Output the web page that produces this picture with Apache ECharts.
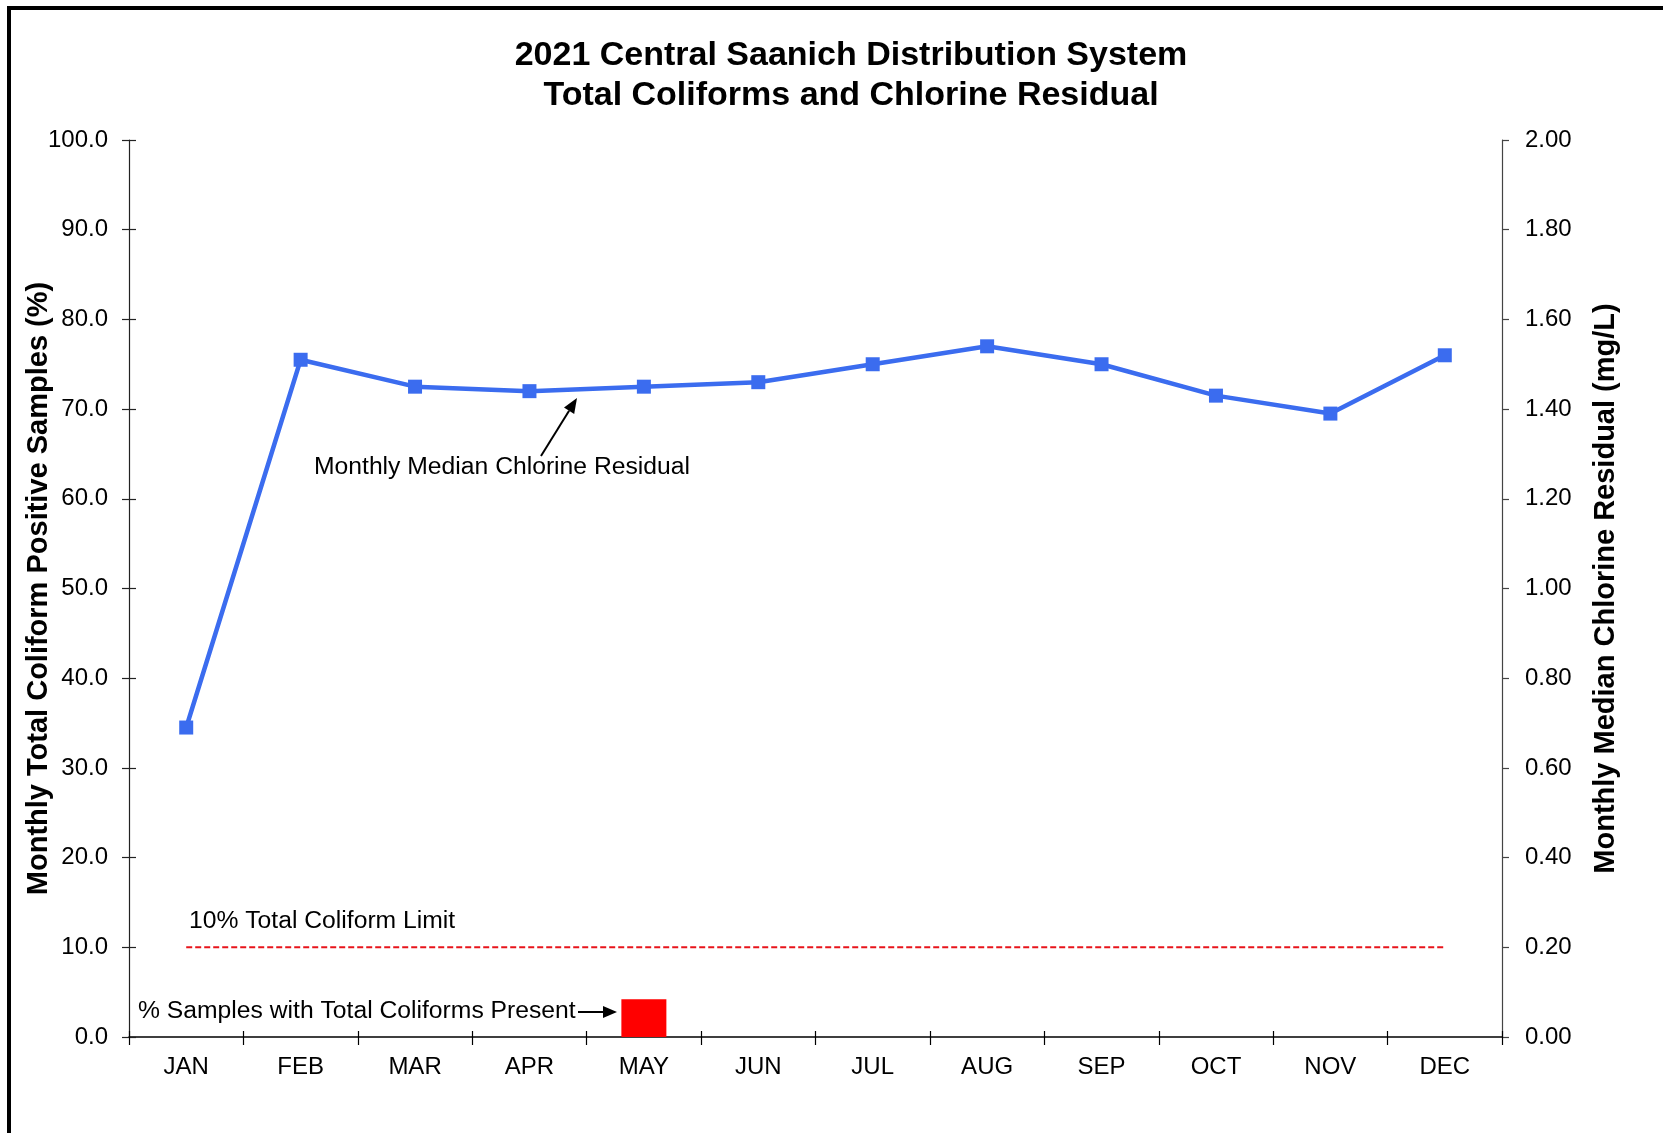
<!DOCTYPE html>
<html>
<head>
<meta charset="utf-8">
<script src="https://cdn.jsdelivr.net/npm/echarts@6/dist/echarts.min.js"></script>
<style>
  html, body { margin: 0; padding: 0; background: #ffffff; }
  #chart { width: 1663px; height: 1133px; }
</style>
</head>
<body>
<div id="chart"></div>
<script>
// Months of 2021
const months = ['JAN', 'FEB', 'MAR', 'APR', 'MAY', 'JUN', 'JUL', 'AUG', 'SEP', 'OCT', 'NOV', 'DEC'];
// Monthly median free chlorine residual (mg/L), right axis
const chlorineResidual = [0.69, 1.51, 1.45, 1.44, 1.45, 1.46, 1.50, 1.54, 1.50, 1.43, 1.39, 1.52];
// Percentage of samples with total coliforms present, left axis
const coliformPositive = [0, 0, 0, 0, 4.2, 0, 0, 0, 0, 0, 0, 0];
// 10% total coliform limit, left axis
const coliformLimit = [10, 10, 10, 10, 10, 10, 10, 10, 10, 10, 10, 10];

const FONT = '"Liberation Sans", Arial, sans-serif';
const chart = echarts.init(document.getElementById('chart'), null, { renderer: 'canvas' });

// Simple arrow: a shaft plus a filled triangular head at (x2, y2)
function arrow(x1, y1, x2, y2, headLen, headHalf) {
  const a = Math.atan2(y2 - y1, x2 - x1);
  const bx = x2 - headLen * Math.cos(a), by = y2 - headLen * Math.sin(a);
  const px = -Math.sin(a) * headHalf, py = Math.cos(a) * headHalf;
  return [
    { type: 'line', shape: { x1: x1, y1: y1, x2: bx, y2: by }, style: { stroke: '#000', lineWidth: 2 }, z: 100 },
    { type: 'polygon', shape: { points: [[x2, y2], [bx + px, by + py], [bx - px, by - py]] }, style: { fill: '#000' }, z: 100 }
  ];
}

// Annotation text placed by its left edge and vertical centre
const note = (t, x, y) => ({
  type: 'text', left: x, top: y - 14, z: 100,
  style: { text: t, fontSize: 24.7, fontFamily: FONT, fill: '#000', textVerticalAlign: 'top' }
});

const option = {
  animation: false,
  backgroundColor: '#ffffff',
  title: {
    text: '2021 Central Saanich Distribution System\nTotal Coliforms and Chlorine Residual',
    left: 846, top: 31, textAlign: 'center',
    textStyle: { fontSize: 34, fontWeight: 'bold', fontFamily: FONT, color: '#000', lineHeight: 40 }
  },
  grid: { left: 129, right: 161, top: 140, bottom: 96 },
  xAxis: [
    {
      type: 'category', data: months, position: 'bottom',
      axisLine: { lineStyle: { color: '#000', width: 1.5 } },
      axisTick: { show: true, length: 8, lineStyle: { color: '#000', width: 1.2 } },
      axisLabel: { color: '#000', fontSize: 24, fontFamily: FONT, margin: 18 },
      splitLine: { show: false }
    },
    {
      type: 'category', data: months, position: 'bottom',
      axisLine: { show: false },
      axisTick: { show: true, inside: true, length: 6, lineStyle: { color: '#000', width: 1.2 } },
      axisLabel: { show: false }, splitLine: { show: false }
    }
  ],
  yAxis: [
    {
      type: 'value', min: 0, max: 100, interval: 10, position: 'left',
      name: 'Monthly Total Coliform Positive Samples (%)',
      nameLocation: 'middle', nameGap: 76, nameRotate: 90, nameMoveOverlap: false,
      nameTextStyle: { fontSize: 29, fontWeight: 'bold', fontFamily: FONT, color: '#000' },
      axisLine: { show: true, lineStyle: { color: '#222', width: 1.2 } },
      axisTick: { show: true, length: 7, lineStyle: { color: '#222', width: 1.2 } },
      axisLabel: { color: '#000', fontSize: 24, fontFamily: FONT, margin: 21, formatter: v => v.toFixed(1) },
      splitLine: { show: false }
    },
    {
      type: 'value', min: 0, max: 2, interval: 0.2, position: 'right',
      name: 'Monthly Median Chlorine Residual (mg/L)',
      nameLocation: 'middle', nameGap: 89, nameRotate: 90, nameMoveOverlap: false,
      nameTextStyle: { fontSize: 29, fontWeight: 'bold', fontFamily: FONT, color: '#000' },
      axisLine: { show: true, lineStyle: { color: '#444', width: 1.2 } },
      axisTick: { show: true, length: 7, lineStyle: { color: '#444', width: 1.2 } },
      axisLabel: { color: '#000', fontSize: 24, fontFamily: FONT, margin: 23, formatter: v => v.toFixed(2) },
      splitLine: { show: false }
    },
    {
      type: 'value', min: 0, max: 100, interval: 10, position: 'left',
      axisLine: { show: false },
      axisTick: { show: true, inside: true, length: 7, lineStyle: { color: '#222', width: 1.2 } },
      axisLabel: { show: false }, splitLine: { show: false }
    }
  ],
  series: [
    {
      name: '% Samples with Total Coliforms Present', type: 'bar',
      xAxisIndex: 0, yAxisIndex: 0, data: coliformPositive,
      barWidth: 45, itemStyle: { color: '#ff0000' }, z: 2
    },
    {
      name: '10% Total Coliform Limit', type: 'line',
      xAxisIndex: 0, yAxisIndex: 0, data: coliformLimit,
      symbol: 'none', lineStyle: { color: '#e8141b', width: 2, type: [6, 3] }, z: 3
    },
    {
      name: 'Monthly Median Chlorine Residual', type: 'line',
      xAxisIndex: 0, yAxisIndex: 1, data: chlorineResidual,
      symbol: 'rect', symbolSize: 14,
      itemStyle: { color: '#3b6cef' },
      lineStyle: { color: '#3b6cef', width: 4.5 }, z: 5
    }
  ],
  graphic: [
    // page frame (top and left rules)
    { type: 'rect', shape: { x: 7, y: 6, width: 1656, height: 4 }, style: { fill: '#000' }, z: 100 },
    { type: 'rect', shape: { x: 7, y: 6, width: 4, height: 1127 }, style: { fill: '#000' }, z: 100 },
    note('Monthly Median Chlorine Residual', 314, 469),
    note('10% Total Coliform Limit', 189, 923),
    note('% Samples with Total Coliforms Present', 138, 1013),
    ...arrow(541, 456, 577, 398, 15, 6),
    ...arrow(578, 1012, 617, 1012, 14, 6)
  ]
};

chart.setOption(option);
</script>
</body>
</html>
